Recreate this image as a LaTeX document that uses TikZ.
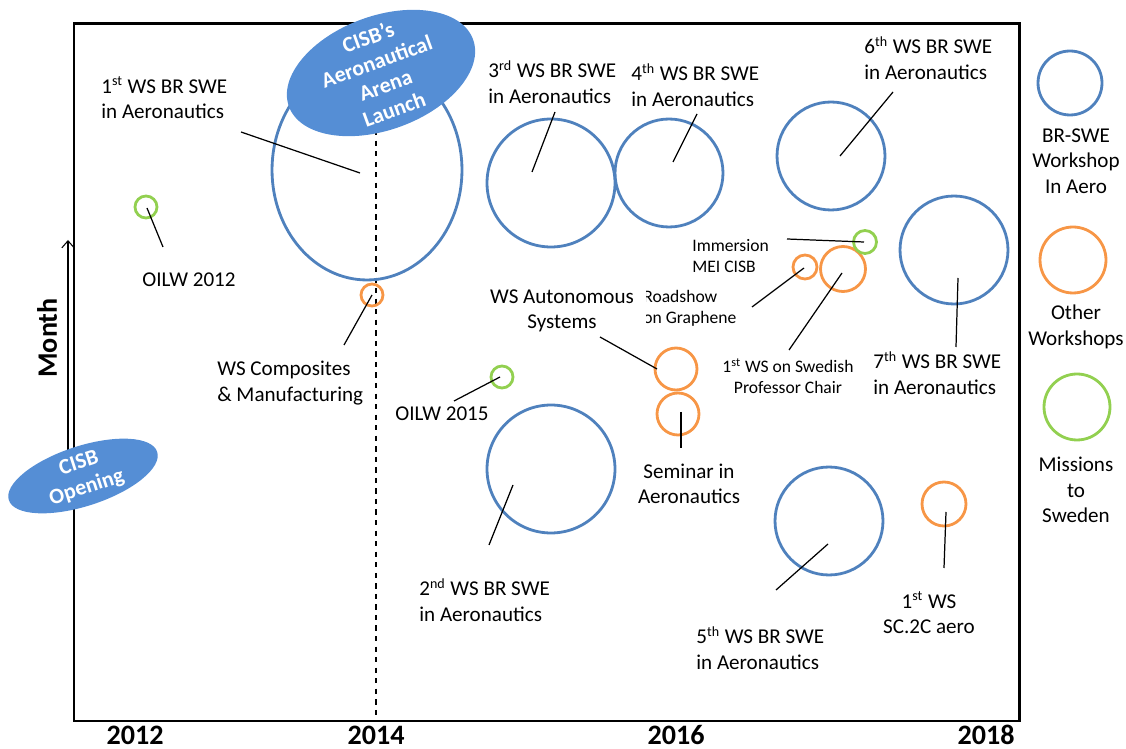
\documentclass[tikz,border=0pt]{standalone}
\usepackage{fontspec}
\setmainfont{Carlito}
\usetikzlibrary{arrows.meta}
\usetikzlibrary{shapes.geometric}
\definecolor{wsblue}{RGB}{79,129,189}
\definecolor{wsorange}{RGB}{247,150,70}
\definecolor{wsgreen}{RGB}{146,208,80}
\definecolor{eventblue}{RGB}{85,142,213}

\begin{document}
\begin{tikzpicture}[x=0.02cm,y=-0.02cm,
	ring/.style={circle,draw=#1,line width=1.6pt,inner sep=0pt,outer sep=0pt},
	leader/.style={line width=0.7pt},
	lbl/.style={font=\fontsize{12}{14.5}\selectfont,inner sep=0pt,align=left},
	small/.style={font=\fontsize{10}{12}\selectfont,inner sep=0pt,align=left},
	year/.style={font=\fontsize{16}{18}\selectfont\bfseries,inner sep=0pt},
	event/.style={ellipse,fill=eventblue,inner sep=0pt},
	eventtext/.style={text=white,font=\fontsize{12.5}{14.5}\selectfont\bfseries,align=center,inner sep=0pt}]
	\useasboundingbox (0,0) rectangle (1126,749);

	\draw[line width=1.7pt] (74,24) rectangle (1019,721);
	\draw[line width=0.6pt,-{Straight Barb[length=4pt,width=7pt]}] (68,460) -- (68,240);
	\node[rotate=90,year] (month) at (47,338) {Month};
	\draw[dashed,line width=0.8pt] (376,130) -- (376,721);

	\node[year] (y12) at (135,735) {2012};
	\node[year] (y14) at (376,735) {2014};
	\node[year] (y16) at (676,735) {2016};
	\node[year] (y18) at (986,735) {2018};

	\node[ring=wsblue,ellipse,minimum width=3.8cm,minimum height=4.4cm] (c1) at (367,170) {};
	\node[ring=wsblue,minimum size=2.56cm] (c2) at (551,469) {};
	\node[ring=wsblue,minimum size=2.56cm] (c3) at (551,183) {};
	\node[ring=wsblue,minimum size=2.16cm] (c4) at (669,173) {};
	\node[ring=wsblue,minimum size=2.16cm] (c5) at (829,521) {};
	\node[ring=wsblue,minimum size=2.16cm] (c6) at (831,156) {};
	\node[ring=wsblue,minimum size=2.16cm] (c7) at (954,250) {};

	\node[ring=wsorange,minimum size=0.44cm] (ocomp) at (372,295) {};
	\node[ring=wsorange,minimum size=0.84cm] (oauto) at (676,369) {};
	\node[ring=wsorange,minimum size=0.84cm] (osem) at (678,414) {};
	\node[ring=wsorange,minimum size=0.48cm] (oroad) at (805,267) {};
	\node[ring=wsorange,minimum size=0.9cm] (ochair) at (843,269) {};
	\node[ring=wsorange,minimum size=0.88cm] (osc) at (944,504) {};

	\node[ring=wsgreen,minimum size=0.44cm] (goilwa) at (146,207) {};
	\node[ring=wsgreen,minimum size=0.44cm] (goilwb) at (502,377) {};
	\node[ring=wsgreen,minimum size=0.46cm] (gimm) at (865,242) {};

	\node[ring=wsblue,minimum size=1.28cm] (kblue) at (1070,83) {};
	\node[ring=wsorange,minimum size=1.32cm] (korange) at (1073,260) {};
	\node[ring=wsgreen,minimum size=1.32cm] (kgreen) at (1077,407) {};
	\node[lbl,align=center] (kbluet) at (1076,161) {BR-SWE\\Workshop\\In Aero};
	\node[lbl,align=center] (koranget) at (1076,327) {Other\\Workshops};
	\node[lbl,align=center] (kgreent) at (1076,490) {Missions\\to\\Sweden};

	\node[lbl,anchor=west] (t1) at (101,98) {1\textsuperscript{st} WS BR SWE\\in Aeronautics};
	\node[lbl,anchor=west] (t2) at (419,600) {2\textsuperscript{nd} WS BR SWE\\in Aeronautics};
	\node[lbl,anchor=west] (t3) at (488,82) {3\textsuperscript{rd} WS BR SWE\\in Aeronautics};
	\node[lbl,anchor=west] (t4) at (631,85) {4\textsuperscript{th} WS BR SWE\\in Aeronautics};
	\node[lbl,anchor=west] (t5) at (696,648) {5\textsuperscript{th} WS BR SWE\\in Aeronautics};
	\node[lbl,anchor=west] (t6) at (864,58) {6\textsuperscript{th} WS BR SWE\\in Aeronautics};
	\node[lbl,anchor=west] (t7) at (873,373) {7\textsuperscript{th} WS BR SWE\\in Aeronautics};
	\node[lbl] (toilwa) at (189,280) {OILW 2012};
	\node[lbl] (toilwb) at (442,414) {OILW 2015};
	\node[lbl,anchor=west] (tcomp) at (217,383) {WS Composites\\\& Manufacturing};
	\node[lbl,align=center] (tauto) at (562,311) {WS Autonomous\\Systems};
	\node[lbl,align=center] (tsem) at (689,484) {Seminar in\\Aeronautics};
	\node[lbl,align=center] (tsc) at (929,613) {1\textsuperscript{st} WS\\SC.2C aero};
	\node[small,anchor=west] (timm) at (692,256) {Immersion\\MEI CISB};
	\node[small,align=center] (tchair) at (788,376) {1\textsuperscript{st} WS on Swedish\\Professor Chair};
	\begin{scope}
		\clip (646,285) rectangle (780,332);
		\node[small,anchor=west] (troad) at (643,308) {Roadshow\\on Graphene};
	\end{scope}

	\draw[leader] (c1.center) ++(-7,3) -- ++(-119,-41);
	\draw[leader] (c2.center) ++(-38,16) -- ++(-24,60);
	\draw[leader] (c3.center) ++(-19,-11) -- ++(23,-60);
	\draw[leader] (c4.center) ++(4,-11) -- ++(24,-48);
	\draw[leader] (c5.center) ++(-1,23) -- ++(-52,46);
	\draw[leader] (c6.center) ++(9,0) -- ++(53,-64);
	\draw[leader] (c7.center) ++(4,28) -- ++(-2,69);
	\draw[leader] (goilwa.center) ++(1,1) -- ++(16,39);
	\draw[leader] (goilwb.center) ++(-2,0) -- ++(-46,24);
	\draw[leader] (gimm.center) ++(-1,0) -- ++(-77,-3);
	\draw[leader] (ocomp.center) -- ++(-28,50);
	\draw[leader] (oauto.west) ++(2,0) -- ++(-57,-32);
	\draw[leader] (osem.center) ++(3,-2) -- ++(0,36);
	\draw[leader] (oroad.center) ++(-1,1) -- ++(-52,39);
	\draw[leader] (ochair.center) ++(-1,4) -- ++(-53,77);
	\draw[leader] (osc.center) ++(2,8) -- ++(-2,56);

	\node[event,minimum width=3.92cm,minimum height=2.28cm,rotate=20] (arena) at (381,73) {};
	\node[eventtext,rotate=20] (arenat) at (arena.center) {CISB’s\\Aeronautical\\Arena\\Launch};
	\node[event,minimum width=3.12cm,minimum height=1.2cm,rotate=18] (opening) at (83,476) {};
	\node[eventtext,rotate=18] (openingt) at (opening.center) {CISB\\Opening};
\end{tikzpicture}
\end{document}
